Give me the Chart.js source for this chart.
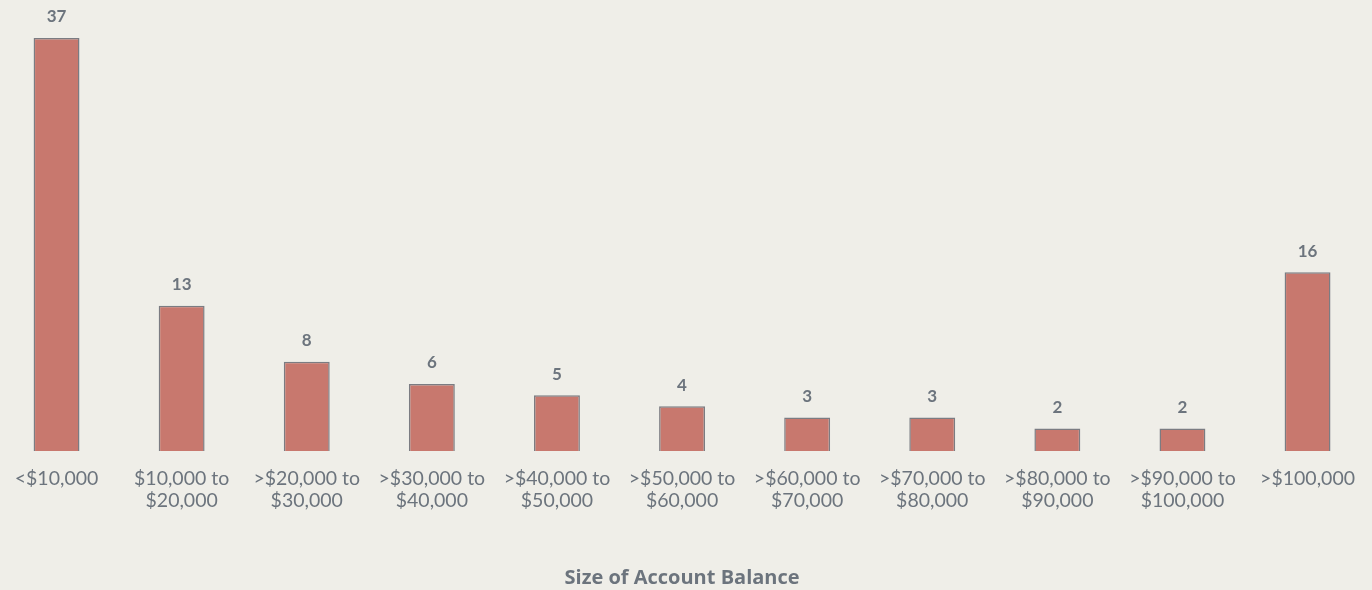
<!DOCTYPE html>
<html>
<head>
<meta charset="utf-8">
<script src="https://cdn.jsdelivr.net/npm/chart.js@4"></script>
<style>
  html, body { margin: 0; padding: 0; background: #efeee8; overflow: hidden; }
  #wrap { position: absolute; left: -6px; top: 0; width: 1378px; height: 590px; }
</style>
</head>
<body>
<div id="wrap"><canvas id="balanceChart"></canvas></div>
<script>
const categories = [
  "<$10,000",
  ["$10,000 to", "$20,000"],
  [">$20,000 to", "$30,000"],
  [">$30,000 to", "$40,000"],
  [">$40,000 to", "$50,000"],
  [">$50,000 to", "$60,000"],
  [">$60,000 to", "$70,000"],
  [">$70,000 to", "$80,000"],
  [">$80,000 to", "$90,000"],
  [">$90,000 to", "$100,000"],
  ">$100,000",
];
const counts = [37, 13, 8, 6, 5, 4, 3, 3, 2, 2, 16];
const axisTitle = "Size of Account Balance";

const textGray = "#6c747d";

// draw the value above every bar
const valueLabels = {
  id: "valueLabels",
  afterDatasetsDraw(chart) {
    const c = chart.ctx;
    const meta = chart.getDatasetMeta(0);
    c.save();
    c.fillStyle = textGray;
    c.font = "bold 17px Lato";
    c.textAlign = "center";
    c.textBaseline = "middle";
    meta.data.forEach(function (bar, i) {
      c.fillText(counts[i], bar.x, bar.y - 21);
    });
    c.restore();
  },
};

const ctx = document.querySelector("#balanceChart").getContext("2d");
const myChart = new Chart(ctx, {
  type: "bar",
  data: {
    labels: categories,
    datasets: [
      {
        data: counts,
        backgroundColor: "#c8786e",
        borderColor: "#7b7c82",
        borderWidth: 1.5,
        barPercentage: 0.367,
        categoryPercentage: 1,
      },
    ],
  },
  options: {
    responsive: true,
    maintainAspectRatio: false,
    animation: false,
    layout: { padding: { top: 38, left: 0, right: 0, bottom: 0 } },
    plugins: {
      legend: { display: false },
      tooltip: { enabled: false },
    },
    scales: {
      x: {
        grid: { display: false, drawTicks: false },
        border: { display: false },
        ticks: {
          color: textGray,
          font: { family: "Lato", size: 19.5, lineHeight: 1.13 },
          padding: 17,
          maxRotation: 0,
          autoSkip: false,
        },
        title: {
          display: true,
          text: axisTitle,
          color: textGray,
          font: { family: "Open Sans", size: 20, weight: "bold" },
          padding: { top: 37, bottom: 0 },
        },
      },
      y: {
        display: false,
        min: 0,
        max: 37,
      },
    },
  },
  plugins: [valueLabels],
});
</script>
</body>
</html>
